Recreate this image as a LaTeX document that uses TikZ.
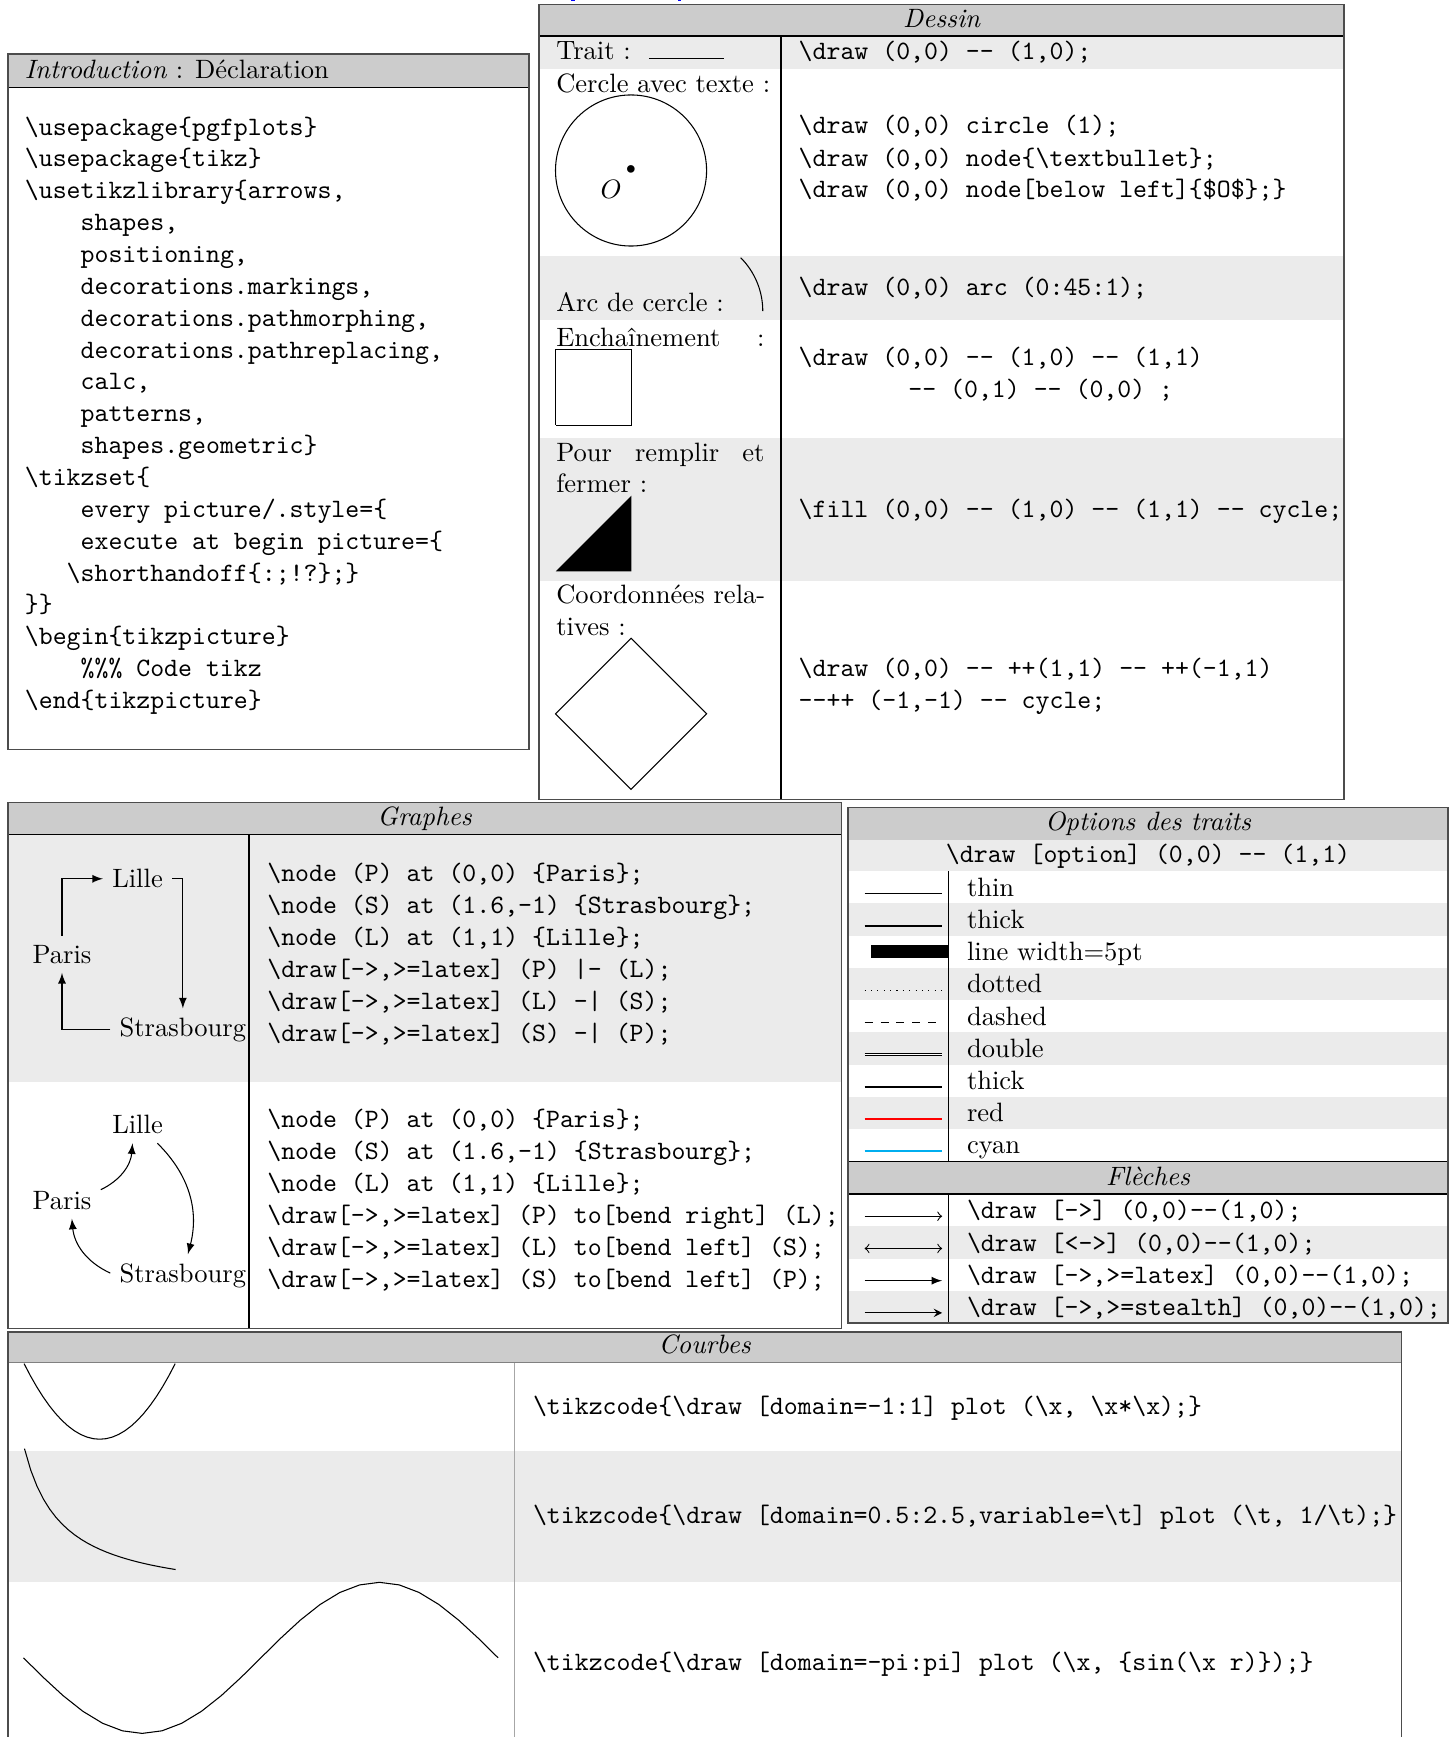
\documentclass[tikz,border=0pt]{standalone}
\usetikzlibrary{arrows}
\definecolor{hdr}{gray}{0.8}
\definecolor{rowg}{gray}{0.92}
\definecolor{mycyan}{RGB}{0,174,239}
\definecolor{frm}{gray}{0.3}
\definecolor{linkblue}{RGB}{0,0,255}
\newcommand\bs{\textbackslash}
\begin{document}
\begin{tikzpicture}[x=0.417pt,y=-0.417pt,
  tt/.style={font=\ttfamily,anchor=base west,inner sep=0pt},
  rm/.style={anchor=base west,inner sep=0pt},
  hd/.style={font=\itshape,anchor=base,inner sep=0pt},
  frame/.style={draw=frm,line width=0.6pt},
  sep/.style={draw=black,line width=0.5pt},
  cell/.style={fill=rowg},
  head/.style={fill=hdr}]
\useasboundingbox (0,0) rectangle (1310,1569);

% fragments of cut text at the top
\fill[linkblue] (516,0) rectangle (519,1);
\fill[linkblue] (612,0) rectangle (615,1);

% ================= Introduction =================
\fill[head] (7,49) rectangle (478,79);
\draw[sep] (7,79) -- (478,79);
\draw[frame] (7,49) rectangle (478,677);
\node[rm] (introT) at (22,71) {\textit{Introduction} : Déclaration};
\foreach \txt [count=\i from 0] in {
  {\bs usepackage\{pgfplots\}},
  {\bs usepackage\{tikz\}},
  {\bs usetikzlibrary\{arrows,},
  {\phantom{xxxx}shapes,},
  {\phantom{xxxx}positioning,},
  {\phantom{xxxx}decorations.markings,},
  {\phantom{xxxx}decorations.pathmorphing,},
  {\phantom{xxxx}decorations.pathreplacing,},
  {\phantom{xxxx}calc,},
  {\phantom{xxxx}patterns,},
  {\phantom{xxxx}shapes.geometric\}},
  {\bs tikzset\{},
  {\phantom{xxxx}every picture/.style=\{},
  {\phantom{xxxx}execute at begin picture=\{},
  {\phantom{xxx}\bs shorthandoff\{:;!?\};\}},
  {\}\}},
  {\bs begin\{tikzpicture\}},
  {\phantom{xxxx}\%\%\% Code tikz},
  {\bs end\{tikzpicture\}}}
  { \node[tt] (intro\i) at (22,122+28.78*\i) {\txt}; }

% ================= Dessin =================
\fill[head] (487,4) rectangle (1214,32.5);
\fill[cell] (487,32.5) rectangle (1214,62);
\fill[cell] (487,231) rectangle (1214,289);
\fill[cell] (487,396) rectangle (1214,525);
\draw[sep] (487,32.5) -- (1214,32.5);
\draw[sep] (705.5,32.5) -- (705.5,722);
\draw[frame] (487,4) rectangle (1214,722);
\node[hd] (dessinH) at (850.5,25) {Dessin};

\node[rm] (trait) at (502,54) {Trait :};
\begin{scope}[shift={(586,52.5)},x=1cm,y=1cm]
  \draw (0,0) -- (1,0);
\end{scope}
\node[tt] (c1) at (721,54) {\bs draw (0,0) -{}- (1,0);};

\node[rm] (cercle) at (502,84) {Cercle avec texte :};
\begin{scope}[shift={(570,154)},x=1cm,y=1cm]
  \draw (0,0) circle (1);
  \draw (0,0) node (bul) {\textbullet};
  \draw (0,0) node[below left] (oname) {$O$};
\end{scope}
\node[tt] (c2a) at (721,121) {\bs draw (0,0) circle (1);};
\node[tt] (c2b) at (721,150) {\bs draw (0,0) node\{\bs textbullet\};};
\node[tt] (c2c) at (721,178) {\bs draw (0,0) node[below left]\{\$O\$\};\}};

\node[rm] (arc) at (502,281) {Arc de cercle :};
\begin{scope}[shift={(689,281)},x=1cm,y=1cm]
  \draw (0,0) arc (0:45:1);
\end{scope}
\node[tt] (c3) at (721,267) {\bs draw (0,0) arc (0:45:1);};

\node[rm] (ench) at (502,313) {\makebox[78.4pt][s]{Enchaînement :}};
\begin{scope}[shift={(502,384)},x=1cm,y=1cm]
  \draw (0,0) -- (1,0) -- (1,1) -- (0,1) -- (0,0);
\end{scope}
\node[tt] (c4a) at (721,330) {\bs draw (0,0) -{}- (1,0) -{}- (1,1)};
\node[tt] (c4b) at (820,359) {-{}- (0,1) -{}- (0,0) ;};

\node[rm] (pour) at (502,417) {\makebox[78.4pt][s]{Pour remplir et}};
\node[rm] (fermer) at (502,445) {fermer :};
\begin{scope}[shift={(502,516)},x=1cm,y=1cm]
  \fill (0,0) -- (1,0) -- (1,1) -- cycle;
\end{scope}
\node[tt] (c5) at (721,467) {\bs fill (0,0) -{}- (1,0) -{}- (1,1) -{}- cycle;};

\node[rm] (coord) at (502,545) {Coordonnées rela-};
\node[rm] (tives) at (502,574) {tives :};
\begin{scope}[shift={(570,713)},x=1cm,y=1cm]
  \draw (0,0) -- ++(1,1) -- ++(-1,1) -- ++(-1,-1) -- cycle;
\end{scope}
\node[tt] (c6a) at (721,611) {\bs draw (0,0) -{}- ++(1,1) -{}- ++(-1,1)};
\node[tt] (c6b) at (721,640) {-{}-++ (-1,-1) -{}- cycle;};

% ================= Graphes =================
\fill[head] (7,725) rectangle (760,754);
\fill[cell] (7,754) rectangle (760,977);
\draw[sep] (7,754) -- (760,754);
\draw[sep] (225,754) -- (225,1200);
\draw[frame] (7,725) rectangle (760,1200);
\node[hd] (graphesH) at (383.5,746) {Graphes};

\begin{scope}[shift={(56,862)},x=1cm,y=1cm]
  \node (P1) at (0,0) {Paris};
  \node (S1) at (1.6,-1) {Strasbourg};
  \node (L1) at (1,1) {Lille};
  \draw[->,>=latex] (P1) |- (L1);
  \draw[->,>=latex] (L1) -| (S1);
  \draw[->,>=latex] (S1) -| (P1);
\end{scope}
\foreach \txt [count=\i from 0] in {
  {\bs node (P) at (0,0) \{Paris\};},
  {\bs node (S) at (1.6,-1) \{Strasbourg\};},
  {\bs node (L) at (1,1) \{Lille\};},
  {\bs draw[->,>=latex] (P) |- (L);},
  {\bs draw[->,>=latex] (L) -| (S);},
  {\bs draw[->,>=latex] (S) -| (P);}}
  { \node[tt] (ga\i) at (241,796+29*\i) {\txt}; }

\begin{scope}[shift={(56,1084)},x=1cm,y=1cm]
  \node (P2) at (0,0) {Paris};
  \node (S2) at (1.6,-1) {Strasbourg};
  \node (L2) at (1,1) {Lille};
  \draw[->,>=latex] (P2) to[bend right] (L2);
  \draw[->,>=latex] (L2) to[bend left] (S2);
  \draw[->,>=latex] (S2) to[bend left] (P2);
\end{scope}
\foreach \txt [count=\i from 0] in {
  {\bs node (P) at (0,0) \{Paris\};},
  {\bs node (S) at (1.6,-1) \{Strasbourg\};},
  {\bs node (L) at (1,1) \{Lille\};},
  {\bs draw[->,>=latex] (P) to[bend right] (L);},
  {\bs draw[->,>=latex] (L) to[bend left] (S);},
  {\bs draw[->,>=latex] (S) to[bend left] (P);}}
  { \node[tt] (gb\i) at (241,1018+29*\i) {\txt}; }

% ================= Options des traits =================
\fill[head] (766,729.5) rectangle (1308,758.5);
\fill[cell] (766,758.5) rectangle (1308,787);
\fill[cell] (766,816.1) rectangle (1308,845.2);
\fill[cell] (766,874.3) rectangle (1308,903.4);
\fill[cell] (766,932.5) rectangle (1308,961.6);
\fill[cell] (766,990.7) rectangle (1308,1019.8);
\fill[head] (766,1049) rectangle (1308,1078.6);
\fill[cell] (766,1107.7) rectangle (1308,1136.8);
\fill[cell] (766,1165.9) rectangle (1308,1195);
\draw[sep] (857,787) -- (857,1049);
\draw[sep] (857,1078.6) -- (857,1195);
\draw[sep] (766,1049) -- (1308,1049);
\draw[sep] (766,1078.6) -- (1308,1078.6);
\draw[frame] (766,729.5) rectangle (1308,1195);
\node[hd] (optH) at (1037,750) {Options des traits};
\node[tt,anchor=base] (optS) at (1037,779) {\bs draw [option] (0,0) -{}- (1,1)};

\draw[thin] (781,807) -- (851,807);
\draw[thick] (781,836.1) -- (851,836.1);
\draw[line width=5pt] (787,859.7) -- (856,859.7);
\draw[dotted] (781,894.3) -- (851,894.3);
\draw[dashed] (781,923.4) -- (851,923.4);
\draw[double] (781,952.5) -- (851,952.5);
\draw[thick] (781,981.6) -- (851,981.6);
\draw[red,thick] (781,1010.7) -- (851,1010.7);
\draw[mycyan,thick] (781,1039.8) -- (851,1039.8);
\foreach \txt [count=\i from 0] in {thin,thick,{line width=5pt},dotted,dashed,double,thick,red,cyan}
  { \node[rm] (opt\i) at (873,809.5+29.1*\i) {\txt}; }

\node[hd] (flH) at (1037,1070.5) {Flèches};
\draw[->] (781,1098.6) -- (851,1098.6);
\draw[<->] (781,1127.7) -- (851,1127.7);
\draw[->,>=latex] (781,1156.8) -- (851,1156.8);
\draw[->,>=stealth] (781,1185.9) -- (851,1185.9);
\foreach \txt [count=\i from 0] in {
  {\bs draw [->] (0,0)-{}-(1,0);},
  {\bs draw [<->] (0,0)-{}-(1,0);},
  {\bs draw [->,>=latex] (0,0)-{}-(1,0);},
  {\bs draw [->,>=stealth] (0,0)-{}-(1,0);}}
  { \node[tt] (ar\i) at (873,1101+29.1*\i) {\txt}; }

% ================= Courbes =================
\fill[head] (7,1203) rectangle (1266,1231);
\fill[cell] (7,1310.6) rectangle (1266,1429);
\draw[draw=black!50,line width=0.5pt] (7,1231) -- (1266,1231);
\draw[draw=black!35] (464.6,1231) -- (464.6,1569);
\draw[frame] (7,1569) -- (7,1203) -- (1266,1203) -- (1266,1569);
\node[hd] (courbesH) at (636.5,1223) {Courbes};

\begin{scope}[shift={(90,1300)},x=1cm,y=1cm]
  \draw [domain=-1:1] plot (\x, \x*\x);
\end{scope}
\begin{scope}[shift={(-12,1445)},x=1cm,y=1cm]
  \draw [domain=0.5:2.5,variable=\t] plot (\t, 1/\t);
\end{scope}
\begin{scope}[shift={(235.6,1497.5)},x=1cm,y=1cm]
  \draw [domain=-pi:pi] plot (\x, {sin(\x r)});
\end{scope}
\node[tt] (k1) at (481,1278) {\bs tikzcode\{\bs draw [domain=-1:1] plot (\bs x, \bs x*\bs x);\}};
\node[tt] (k2) at (481,1376) {\bs tikzcode\{\bs draw [domain=0.5:2.5,variable=\bs t] plot (\bs t, 1/\bs t);\}};
\node[tt] (k3) at (481,1509) {\bs tikzcode\{\bs draw [domain=-pi:pi] plot (\bs x, \{sin(\bs x r)\});\}};
\end{tikzpicture}
\end{document}
